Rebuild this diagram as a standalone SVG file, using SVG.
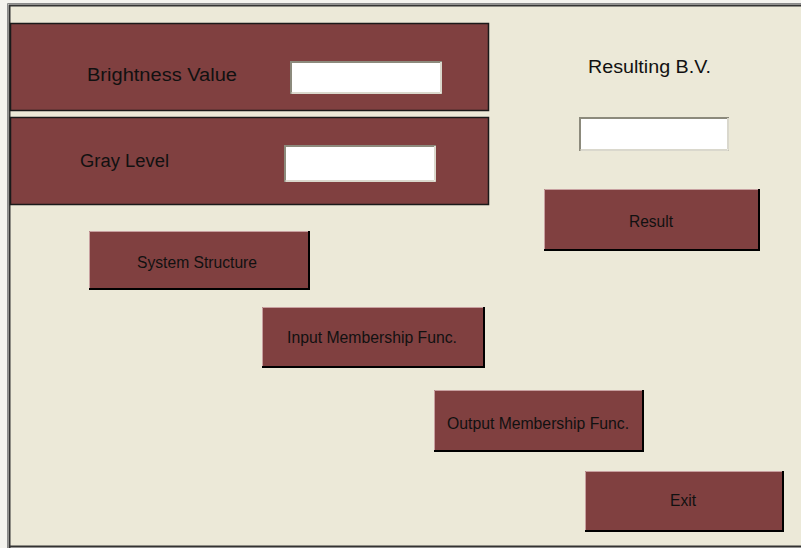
<svg xmlns="http://www.w3.org/2000/svg" width="801" height="548" viewBox="0 0 801 548">
<style>
.panel{fill:#804040;stroke:#1a1a1a;stroke-width:1.5}
.btn{fill:#804040}
.hi{stroke:#c8a0a0;stroke-width:1;fill:none}
.sh{stroke:#000;stroke-width:2;fill:none}
.tb{fill:#fff;stroke:#8c8a7c;stroke-width:2}
.tbh{stroke:#f4f2e8;stroke-width:1.5;fill:none}
.lbl{font-family:"Liberation Sans",Arial,sans-serif;font-size:18px;fill:#111}
.bl{font-family:"Liberation Sans",Arial,sans-serif;font-size:16px;fill:#111}
</style>
<rect width="801" height="548" fill="#f4f3ee"/>
<rect x="9" y="5" width="792" height="541" fill="#ece9d8"/>
<path d="M7.5 548 V3.5 H801" fill="none" stroke="#8a8a8a" stroke-width="1"/>
<path d="M9.5 548 V5.5 H801" fill="none" stroke="#333" stroke-width="2"/>
<path d="M9 546.5 H801" stroke="#333" stroke-width="2"/>
<g id="panel-brightness">
<rect class="panel" x="10.5" y="23.5" width="478" height="87"/>
<text class="lbl" x="87" y="81" textLength="150" lengthAdjust="spacingAndGlyphs">Brightness Value</text>
<rect class="tb" x="291" y="62" width="150" height="31"/>
<path class="tbh" d="M291.5 93 H441 V62"/>
</g>
<g id="panel-gray">
<rect class="panel" x="10.5" y="117.5" width="478" height="87"/>
<text class="lbl" x="80" y="167" textLength="89" lengthAdjust="spacingAndGlyphs">Gray Level</text>
<rect class="tb" x="285" y="146" width="150" height="35"/>
<path class="tbh" d="M285.5 181 H435 V146"/>
</g>
<g id="resulting">
<text class="lbl" x="588" y="73" textLength="123" lengthAdjust="spacingAndGlyphs">Resulting B.V.</text>
<rect class="tb" x="580" y="118" width="148" height="32"/>
<path class="tbh" d="M580.5 150 H728 V118"/>
</g>
<g id="btn-result">
<rect class="btn" x="544" y="189" width="216" height="62"/>
<path class="hi" d="M544.5 250 V189.5 H759"/>
<path class="sh" d="M544 250 H759 V189"/>
<text class="bl" x="629" y="227" textLength="44" lengthAdjust="spacingAndGlyphs">Result</text>
</g>
<g id="btn-system">
<rect class="btn" x="89" y="231" width="221" height="59"/>
<path class="hi" d="M89.5 289 V231.5 H309"/>
<path class="sh" d="M89 289 H309 V231"/>
<text class="bl" x="137" y="268" textLength="120" lengthAdjust="spacingAndGlyphs">System Structure</text>
</g>
<g id="btn-input">
<rect class="btn" x="262" y="307" width="223" height="61"/>
<path class="hi" d="M262.5 367 V307.5 H484"/>
<path class="sh" d="M262 367 H484 V307"/>
<text class="bl" x="287" y="343" textLength="170" lengthAdjust="spacingAndGlyphs">Input Membership Func.</text>
</g>
<g id="btn-output">
<rect class="btn" x="434" y="390" width="210" height="62"/>
<path class="hi" d="M434.5 451 V390.5 H643"/>
<path class="sh" d="M434 451 H643 V390"/>
<text class="bl" x="447" y="429" textLength="182" lengthAdjust="spacingAndGlyphs">Output Membership Func.</text>
</g>
<g id="btn-exit">
<rect class="btn" x="585" y="471" width="199" height="61"/>
<path class="hi" d="M585.5 531 V471.5 H783"/>
<path class="sh" d="M585 531 H783 V471"/>
<text class="bl" x="670" y="506" textLength="26" lengthAdjust="spacingAndGlyphs">Exit</text>
</g>
<g id="connectors"/>
</svg>
